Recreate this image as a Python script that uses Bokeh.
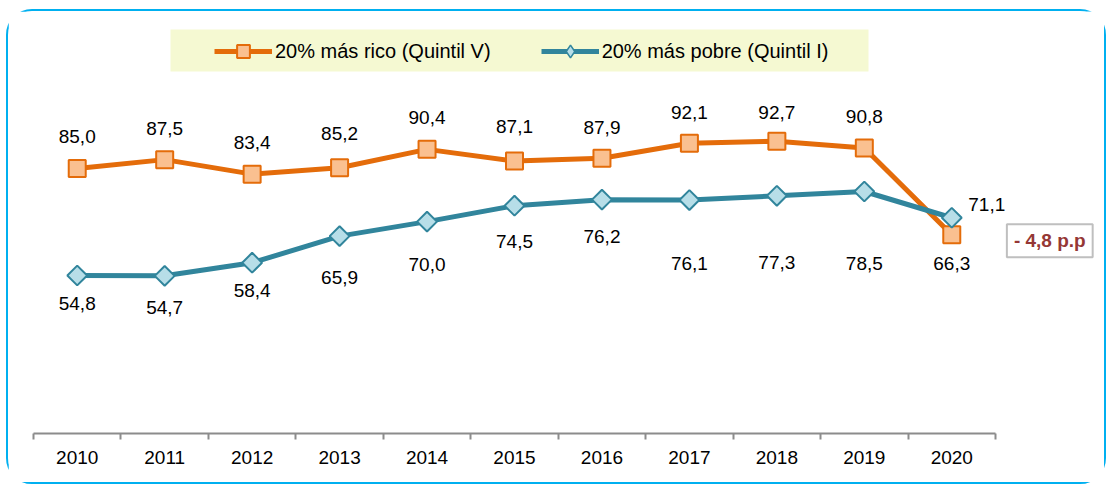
from bokeh.plotting import figure
from bokeh.models import Range1d, FixedTicker, Legend, LegendItem, Label, ColumnDataSource
from bokeh.core.properties import value
from bokeh.embed import file_html
from bokeh.resources import INLINE
import math

# ---- data ----
years = [2010, 2011, 2012, 2013, 2014, 2015, 2016, 2017, 2018, 2019, 2020]
rico = [85.0, 87.5, 83.4, 85.2, 90.4, 87.1, 87.9, 92.1, 92.7, 90.8, 66.3]
pobre = [54.8, 54.7, 58.4, 65.9, 70.0, 74.5, 76.2, 76.1, 77.3, 78.5, 71.1]
rico_name = "20% más rico (Quintil V)"
pobre_name = "20% más pobre (Quintil I)"
gap_text = "- 4,8 p.p"

# label placement (screen px, positive = down)
rico_lbl_dy = [-32, -31, -32, -34, -32, -35, -31, -31, -29, -31, 29]
rico_lbl_dx = [0, 0, 0, 0, 0, 0, 0, 0, 0, 0, 0]
pobre_lbl_dy = [28, 32, 28, 41, 43, 36, 37, 63, 67, 72, -13]
pobre_lbl_dx = [0, 0, 0, 0, 0, 0, 0, 0, 0, 0, 35]

FONT = "Liberation Sans"
ORANGE, ORANGE_FILL = "#E46C0A", "#FAC090"
TEAL, TEAL_FILL = "#31859C", "#B7DEE8"

W, H = 1100, 475
FL, FR, FB = 25, 0, 53
Y0, Y1 = 10.2, 129.31
X0 = 2009.5
X1 = X0 + (W - FL - FR) * 11 / 962

p = figure(width=W, height=H, output_backend="svg", toolbar_location=None,
           x_range=Range1d(X0, X1), y_range=Range1d(Y0, Y1),
           y_axis_location=None, min_border_left=FL, min_border_right=FR,
           min_border_top=0, min_border_bottom=FB)
p.outline_line_color = None
p.xgrid.visible = False
p.ygrid.visible = False
p.styles = {"border": "2px solid #00B0F0", "border-radius": "26px",
            "margin": "9px 0px 0px 6px"}

fw = W - FL - FR
fh = H - FB
def dx(px):  # canvas px -> data x
    return X0 + (px - FL) * (X1 - X0) / fw
def dy(py):  # canvas px -> data y
    return Y1 - py * (Y1 - Y0) / fh

# legend background
p.quad(left=[dx(162)], right=[dx(860)], top=[dy(18)], bottom=[dy(60)],
       fill_color="#F5F9D2", line_color=None)

def fmt(v):
    return f"{v:.1f}".replace(".", ",")

src_r = ColumnDataSource(dict(x=years, y=rico, t=[fmt(v) for v in rico],
                              dx=rico_lbl_dx, dy=rico_lbl_dy))
src_p = ColumnDataSource(dict(x=years, y=pobre, t=[fmt(v) for v in pobre],
                              dx=pobre_lbl_dx, dy=pobre_lbl_dy))

lr = p.line("x", "y", source=src_r, line_color=ORANGE, line_width=5)
sr = p.scatter("x", "y", source=src_r, marker="square", size=17,
               fill_color=ORANGE_FILL, line_color=ORANGE, line_width=2)
lp = p.line("x", "y", source=src_p, line_color=TEAL, line_width=5)
sp = p.scatter("x", "y", source=src_p, marker="square", angle=math.pi / 4, size=14,
               fill_color=TEAL_FILL, line_color=TEAL, line_width=2)
# legend-only diamond (kept out of the visible range)
sp_leg = p.scatter(x=[years[0]], y=[Y0 - 100], marker="diamond",
                   fill_color=TEAL_FILL, line_color=TEAL, line_width=1.5)

for src in (src_r, src_p):
    p.text("x", "y", text="t", source=src, x_offset="dx", y_offset="dy",
           text_align="center", text_baseline="middle",
           text_font=value(FONT), text_font_size="19px", text_color="#000000")

gap = Label(x=years[-1], y=rico[-1], x_offset=98, y_offset=-6, text=gap_text,
            text_align="center", text_baseline="middle",
            text_font=FONT, text_font_size="19px", text_font_style="bold",
            text_color="#953735", background_fill_color="white",
            border_line_color="#BFBFBF", border_line_width=2, padding=(7, 6))
p.add_layout(gap)

legend = Legend(items=[LegendItem(label=rico_name, renderers=[lr, sr]),
                       LegendItem(label=pobre_name, renderers=[lp, sp_leg])],
                orientation="horizontal", location=(181, 366),
                padding=0, margin=0, spacing=50, glyph_width=58, glyph_height=32,
                label_standoff=3, label_height=22,
                label_text_font=FONT, label_text_font_size="20px",
                label_text_color="#000000",
                background_fill_alpha=0, border_line_alpha=0)
p.add_layout(legend)

ax = p.xaxis[0]
ax.bounds = (X0, X0 + 11)
ax.ticker = FixedTicker(ticks=years, minor_ticks=[X0 + i for i in range(12)])
ax.axis_line_color = "#8C8C8C"
ax.axis_line_width = 2
ax.major_tick_line_color = None
ax.major_tick_out = 0
ax.major_tick_in = 0
ax.minor_tick_line_color = "#8C8C8C"
ax.minor_tick_line_width = 2
ax.minor_tick_out = 6
ax.minor_tick_in = 0
ax.major_label_standoff = 11
ax.major_label_text_font = FONT
ax.major_label_text_font_size = "19px"
ax.major_label_text_color = "#000000"

open("out.html", "w").write(file_html(p, INLINE))
